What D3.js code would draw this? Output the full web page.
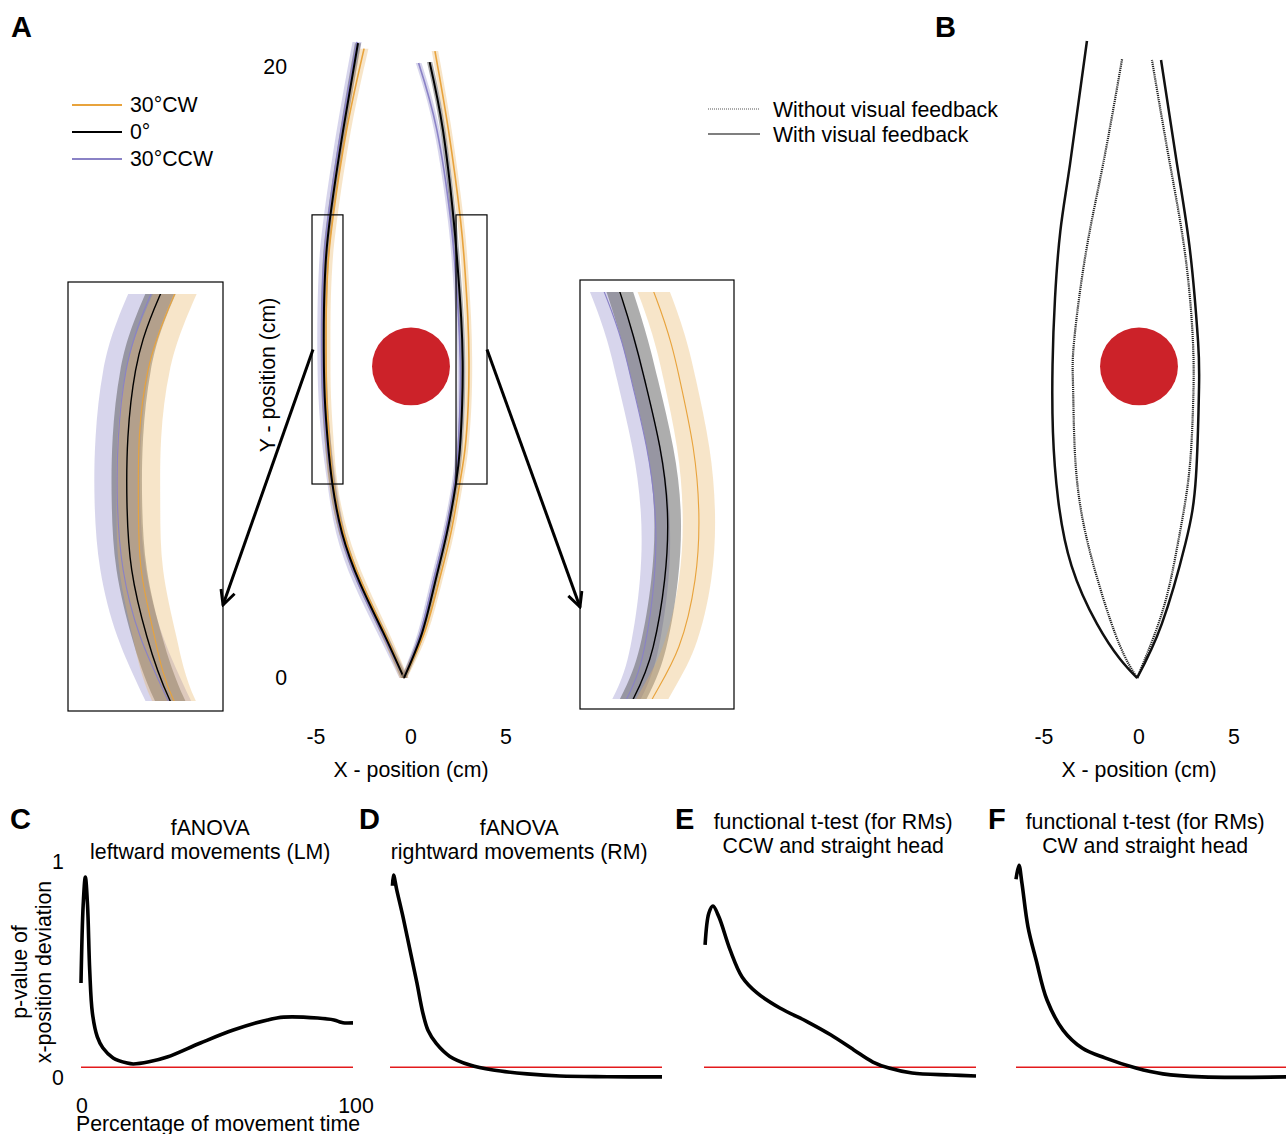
<!DOCTYPE html>
<meta charset="utf-8">
<html>
<head>
<script src="https://d3js.org/d3.v7.min.js"></script>
<style>
body { margin:0; background:#fff; }
text { font-family:"Liberation Sans", Arial, sans-serif; fill:#000; }
</style>
</head>
<body>
<div id="fig"></div>
<script>

// ---------------- data ----------------
// A: mean hand paths (cm), leftward movements (LM)
var lmYcw  = [0, 1.5, 3.1, 4.75, 6.37, 7.74, 9.19, 10.64, 12.06, 13.5, 15.1, 17.9, 20.6];
var lmXcw  = [-0.37, -1.40, -2.58, -3.55, -4.10, -4.30, -4.44, -4.47, -4.46, -4.37, -4.10, -3.40, -2.47];
var lmY0   = [0, 1.5, 3.1, 4.75, 6.37, 7.74, 9.19, 10.64, 12.06, 13.5, 15.1, 17.9, 20.78];
var lmX0   = [-0.37, -1.47, -2.68, -3.63, -4.14, -4.38, -4.54, -4.59, -4.58, -4.50, -4.25, -3.58, -2.79];
var lmYccw = [0, 1.5, 3.1, 4.75, 6.37, 7.74, 9.19, 10.64, 12.06, 13.5, 15.1, 17.9, 20.82];
var lmXccw = [-0.37, -1.55, -2.78, -3.70, -4.16, -4.45, -4.63, -4.69, -4.68, -4.60, -4.35, -3.68, -2.84];
// rightward movements (RM)
var rmYcw  = [0, 1.47, 3.11, 4.75, 6.35, 7.48, 8.93, 10.38, 11.8, 13.26, 15.03, 17.94, 20.52];
var rmXcw  = [-0.37, 0.70, 1.45, 2.10, 2.56, 2.84, 3.01, 3.05, 2.99, 2.85, 2.60, 1.97, 1.26];
var rmY0   = [0, 1.47, 3.11, 4.75, 6.35, 7.48, 8.93, 10.38, 11.8, 13.26, 15.03, 17.94, 20.16];
var rmX0   = [-0.37, 0.58, 1.26, 1.89, 2.36, 2.57, 2.69, 2.72, 2.64, 2.48, 2.24, 1.68, 0.98];
var rmYccw = [0, 1.47, 3.11, 4.75, 6.35, 7.48, 8.93, 10.38, 11.8, 13.26, 15.03, 17.94, 20.13];
var rmXccw = [-0.37, 0.50, 1.15, 1.80, 2.29, 2.48, 2.58, 2.59, 2.50, 2.34, 2.08, 1.36, 0.40];
// band half widths (cm) : CW, 0, CCW
var lmSD = [0.23, 0.16, 0.24];
var rmSD = [0.17, 0.14, 0.15];
var condNames = ["30°CW", "0°", "30°CCW"];

// B: paths with / without visual feedback (cm)
var bLeftSolidX  = [-0.1, -1.0, -2.21, -3.55, -4.26, -4.53, -4.55, -4.42, -4.14, -3.63, -2.74];
var bLeftSolidY  = [0, 0.62, 1.77, 3.67, 5.86, 8.05, 10.25, 12.44, 14.63, 16.82, 20.85];
var bLeftDotX    = [-0.1, -1.0, -2.05, -2.95, -3.37, -3.47, -3.42, -2.80, -1.89, -0.89];
var bLeftDotY    = [0, 1.05, 2.95, 5.14, 7.33, 9.53, 11.0, 13.91, 16.82, 20.26];
var bRightDotX   = [-0.1, 1.26, 2.05, 2.62, 2.84, 2.84, 2.42, 1.63, 0.68];
var bRightDotY   = [0, 2.23, 4.42, 6.61, 8.81, 11.0, 13.91, 16.82, 20.23];
var bRightSolidX = [-0.1, 1.20, 2.45, 3.0, 3.16, 3.11, 2.70, 2.0, 1.16];
var bRightSolidY = [0, 1.77, 4.42, 6.61, 9.53, 11.0, 13.91, 16.82, 20.23];

// target position (cm)
var targetX = 0, targetY = 10.2, targetR = 2.05;

// C-F: p-value vs percentage of movement time
var cT = [0, 0.8, 1.6, 2.4, 3.2, 4.2, 6, 8, 11.8, 17, 19.2, 25, 31.7, 43.9, 56, 68.6, 74.5, 87, 93, 95.6, 97, 100];
var cP = [0.44, 0.80, 0.93, 0.80, 0.50, 0.30, 0.19, 0.14, 0.093, 0.069, 0.065, 0.075, 0.097, 0.162, 0.222, 0.269, 0.282, 0.278, 0.269, 0.258, 0.255, 0.255];
var dT = [0.9, 1.3, 2.5, 4.8, 7.4, 9.9, 12.1, 14, 17, 22, 29.4, 37.9, 50.4, 62.5, 80, 100];
var dP = [0.89, 0.94, 0.87, 0.745, 0.59, 0.44, 0.30, 0.22, 0.16, 0.10, 0.06, 0.037, 0.019, 0.009, 0.006, 0.005];
var eT = [0.4, 1.8, 3.3, 5.5, 9.6, 14, 19.5, 27.9, 38.2, 46.7, 55.1, 62.1, 68, 76.5, 90.8, 100];
var eP = [0.616, 0.764, 0.796, 0.745, 0.593, 0.468, 0.394, 0.324, 0.259, 0.199, 0.130, 0.074, 0.046, 0.023, 0.014, 0.009];
var fT = [0, 1.1, 2.2, 4.4, 7.4, 11.4, 17.3, 24.3, 32.7, 44.1, 54, 68.4, 99.3];
var fP = [0.92, 0.985, 0.90, 0.70, 0.546, 0.361, 0.222, 0.139, 0.093, 0.046, 0.019, 0.005, 0.005];
var alpha = 0.05;

var panelTitles = [
  ["fANOVA", "leftward movements (LM)"],
  ["fANOVA", "rightward movements (RM)"],
  ["functional t-test (for RMs)", "CCW and straight head"],
  ["functional t-test (for RMs)", "CW and straight head"]
];

// ---------------- drawing ----------------
var lineCol = ["#e8a33c", "#000000", "#8a82c6"];
var bandCol = ["#e9b463", "#4a4a4a", "#9c97cf"];
var bandOp  = [0.35, 0.45, 0.4];
var fs = "21.3px";

var svg = d3.select("#fig").append("svg")
    .attr("width", 1286).attr("height", 1134);

var defs = svg.append("defs");
defs.append("marker")
    .attr("id", "arr")
    .attr("viewBox", "0 0 10 10")
    .attr("refX", 9).attr("refY", 5)
    .attr("markerWidth", 18).attr("markerHeight", 18)
    .attr("markerUnits", "userSpaceOnUse")
    .attr("orient", "auto")
  .append("path")
    .attr("d", "M1,1 L9,5 L1,9")
    .attr("fill", "none").attr("stroke", "#000").attr("stroke-width", 1.6);

var xA = d3.scaleLinear().domain([-5, 5]).range([316, 506]);
var yA = d3.scaleLinear().domain([0, 20]).range([678, 67]);
var xB = d3.scaleLinear().domain([-5, 5]).range([1044, 1234]);
var yB = yA;

var lm = [d3.zip(lmXcw, lmYcw), d3.zip(lmX0, lmY0), d3.zip(lmXccw, lmYccw)];
var rm = [d3.zip(rmXcw, rmYcw), d3.zip(rmX0, rmY0), d3.zip(rmXccw, rmYccw)];

function drawSet(g, sets, sds, sx, sy, lw) {
  // bands first: CCW, 0, CW
  [2, 1, 0].forEach(function(i) {
    var area = d3.area().curve(d3.curveNatural)
        .y(function(d) { return sy(d[1]); })
        .x0(function(d) { return sx(d[0] - sds[i]); })
        .x1(function(d) { return sx(d[0] + sds[i]); });
    g.append("path").datum(sets[i]).attr("d", area)
        .attr("fill", bandCol[i]).attr("fill-opacity", bandOp[i]);
  });
  [2, 0, 1].forEach(function(i) {
    var line = d3.line().curve(d3.curveNatural)
        .x(function(d) { return sx(d[0]); })
        .y(function(d) { return sy(d[1]); });
    g.append("path").datum(sets[i]).attr("d", line)
        .attr("fill", "none").attr("stroke", lineCol[i])
        .attr("stroke-width", i == 1 ? lw : lw * 0.8);
  });
}

// ----- panel A -----
var gA = svg.append("g");
drawSet(gA, lm, lmSD, xA, yA, 2);
drawSet(gA, rm, rmSD, xA, yA, 2);

gA.append("circle")
    .attr("cx", xA(targetX)).attr("cy", yA(targetY))
    .attr("r", xA(targetR) - xA(0))
    .attr("fill", "#cc2229");

// zoom boxes (cm)
var boxY = [6.35, 15.16];
var leftBoxX = [-5.21, -3.58], rightBoxX = [2.37, 4.0];
[leftBoxX, rightBoxX].forEach(function(bx) {
  gA.append("rect")
      .attr("x", xA(bx[0])).attr("y", yA(boxY[1]))
      .attr("width", xA(bx[1]) - xA(bx[0]))
      .attr("height", yA(boxY[0]) - yA(boxY[1]))
      .attr("fill", "none").attr("stroke", "#000").attr("stroke-width", 1.2);
});

// insets
var insets = [
  {sets: lm, sd: lmSD, dom: [-5.21, -3.58], x: 68, y: 282, w: 155, h: 429},
  {sets: rm, sd: rmSD, dom: [1.80, 3.42], x: 580, y: 280, w: 154, h: 429}
];
insets.forEach(function(ins, k) {
  var sx = d3.scaleLinear().domain(ins.dom).range([ins.x, ins.x + ins.w]);
  var sy = d3.scaleLinear().domain(boxY).range([ins.y + ins.h - 10, ins.y + 12]);
  defs.append("clipPath").attr("id", "clip" + k)
    .append("rect")
      .attr("x", ins.x).attr("y", ins.y + 12)
      .attr("width", ins.w).attr("height", ins.h - 22);
  var g = svg.append("g").attr("clip-path", "url(#clip" + k + ")");
  drawSet(g, ins.sets, ins.sd, sx, sy, 1.4);
  svg.append("rect")
      .attr("x", ins.x).attr("y", ins.y).attr("width", ins.w).attr("height", ins.h)
      .attr("fill", "none").attr("stroke", "#000").attr("stroke-width", 1.2);
});

// arrows box -> inset
var midBox = (boxY[0] + boxY[1]) / 2;
svg.append("line")
    .attr("x1", xA(leftBoxX[0]) + 1).attr("y1", yA(midBox))
    .attr("x2", insets[0].x + insets[0].w).attr("y2", 605)
    .attr("stroke", "#000").attr("stroke-width", 3).attr("marker-end", "url(#arr)");
svg.append("line")
    .attr("x1", xA(rightBoxX[1])).attr("y1", yA(midBox))
    .attr("x2", insets[1].x).attr("y2", 607)
    .attr("stroke", "#000").attr("stroke-width", 3).attr("marker-end", "url(#arr)");

// axis labels A / B
[20, 0].forEach(function(v) {
  svg.append("text").attr("x", 287).attr("y", yA(v))
      .attr("text-anchor", "end").attr("dominant-baseline", "central")
      .style("font-size", fs).text(v);
});
[-5, 0, 5].forEach(function(v) {
  svg.append("text").attr("x", xA(v)).attr("y", 737)
      .attr("text-anchor", "middle").attr("dominant-baseline", "central")
      .style("font-size", fs).text(v);
  svg.append("text").attr("x", xB(v)).attr("y", 737)
      .attr("text-anchor", "middle").attr("dominant-baseline", "central")
      .style("font-size", fs).text(v);
});
svg.append("text").attr("x", xA(0)).attr("y", 770)
    .attr("text-anchor", "middle").attr("dominant-baseline", "central")
    .style("font-size", fs).text("X - position (cm)");
svg.append("text").attr("x", xB(0)).attr("y", 770)
    .attr("text-anchor", "middle").attr("dominant-baseline", "central")
    .style("font-size", fs).text("X - position (cm)");
svg.append("text")
    .attr("transform", "translate(268," + 375 + ") rotate(-90)")
    .attr("text-anchor", "middle").attr("dominant-baseline", "central")
    .style("font-size", fs).text("Y - position (cm)");

// legend A
[0, 1, 2].forEach(function(i, j) {
  var ly = 105 + j * 27;
  svg.append("line").attr("x1", 72).attr("x2", 122).attr("y1", ly).attr("y2", ly)
      .attr("stroke", lineCol[i]).attr("stroke-width", 2);
  svg.append("text").attr("x", 130).attr("y", ly)
      .attr("dominant-baseline", "central").style("font-size", fs).text(condNames[i]);
});

// panel letters
var letters = [["A", 11, 27], ["B", 935, 27], ["C", 10, 819], ["D", 359, 819], ["E", 675, 819], ["F", 988, 819]];
letters.forEach(function(l) {
  svg.append("text").attr("x", l[1]).attr("y", l[2])
      .attr("dominant-baseline", "central")
      .style("font-size", "29px").style("font-weight", "bold").text(l[0]);
});

// ----- panel B -----
var gB = svg.append("g");
var lineB = d3.line().curve(d3.curveNatural)
    .x(function(d) { return xB(d[0]); })
    .y(function(d) { return yB(d[1]); });
[d3.zip(bLeftDotX, bLeftDotY), d3.zip(bRightDotX, bRightDotY)].forEach(function(p) {
  gB.append("path").datum(p).attr("d", lineB)
      .attr("fill", "none").attr("stroke", "#222").attr("stroke-width", 2.2)
      .attr("stroke-dasharray", "1.2,0.9");
});
[d3.zip(bLeftSolidX, bLeftSolidY), d3.zip(bRightSolidX, bRightSolidY)].forEach(function(p) {
  gB.append("path").datum(p).attr("d", lineB)
      .attr("fill", "none").attr("stroke", "#111").attr("stroke-width", 2.5);
});
gB.append("circle")
    .attr("cx", xB(targetX)).attr("cy", yB(targetY))
    .attr("r", xB(targetR) - xB(0))
    .attr("fill", "#cc2229");

// legend B
svg.append("line").attr("x1", 708).attr("x2", 760).attr("y1", 109).attr("y2", 109)
    .attr("stroke", "#555").attr("stroke-width", 1.2).attr("stroke-dasharray", "1,1");
svg.append("line").attr("x1", 708).attr("x2", 760).attr("y1", 134).attr("y2", 134)
    .attr("stroke", "#000").attr("stroke-width", 1.2);
svg.append("text").attr("x", 773).attr("y", 110).attr("dominant-baseline", "central")
    .style("font-size", fs).text("Without visual feedback");
svg.append("text").attr("x", 773).attr("y", 135).attr("dominant-baseline", "central")
    .style("font-size", fs).text("With visual feedback");

// ----- panels C-F -----
var yP = d3.scaleLinear().domain([0, 1]).range([1078, 862]);
var panels = [
  {t: cT, p: cP, x0: 81},
  {t: dT, p: dP, x0: 390},
  {t: eT, p: eP, x0: 704},
  {t: fT, p: fP, x0: 1016}
];
panels.forEach(function(pn, i) {
  var x = d3.scaleLinear().domain([0, 100]).range([pn.x0, pn.x0 + 272]);
  var g = svg.append("g");
  g.append("line").attr("x1", x(0)).attr("x2", x(100))
      .attr("y1", yP(alpha)).attr("y2", yP(alpha))
      .attr("stroke", "#e31a1c").attr("stroke-width", 1.5);
  var line = d3.line().curve(d3.curveCatmullRom.alpha(0.5))
      .x(function(d) { return x(d[0]); })
      .y(function(d) { return yP(d[1]); });
  g.append("path").datum(d3.zip(pn.t, pn.p)).attr("d", line)
      .attr("fill", "none").attr("stroke", "#000").attr("stroke-width", 3.6)
      .attr("stroke-linejoin", "round");
  var cx = x(47.5);
  g.append("text").attr("x", cx).attr("y", i < 2 ? 828 : 822)
      .attr("text-anchor", "middle").attr("dominant-baseline", "central")
      .style("font-size", fs).text(panelTitles[i][0]);
  g.append("text").attr("x", cx).attr("y", i < 2 ? 852 : 846)
      .attr("text-anchor", "middle").attr("dominant-baseline", "central")
      .style("font-size", fs).text(panelTitles[i][1]);
  if (i == 0) {
    [1, 0].forEach(function(v) {
      g.append("text").attr("x", 58).attr("y", yP(v))
          .attr("text-anchor", "middle").attr("dominant-baseline", "central")
          .style("font-size", fs).text(v);
    });
    [0, 100].forEach(function(v) {
      g.append("text").attr("x", x(v) + (v == 0 ? 1 : 3)).attr("y", 1106)
          .attr("text-anchor", "middle").attr("dominant-baseline", "central")
          .style("font-size", fs).text(v);
    });
    g.append("text").attr("x", 218).attr("y", 1124)
        .attr("text-anchor", "middle").attr("dominant-baseline", "central")
        .style("font-size", fs).text("Percentage of movement time");
    g.append("text")
        .attr("transform", "translate(20,972) rotate(-90)")
        .attr("text-anchor", "middle").attr("dominant-baseline", "central")
        .style("font-size", fs).text("p-value of");
    g.append("text")
        .attr("transform", "translate(44,972) rotate(-90)")
        .attr("text-anchor", "middle").attr("dominant-baseline", "central")
        .style("font-size", fs).text("x-position deviation");
  }
});

</script>
</body>
</html>
